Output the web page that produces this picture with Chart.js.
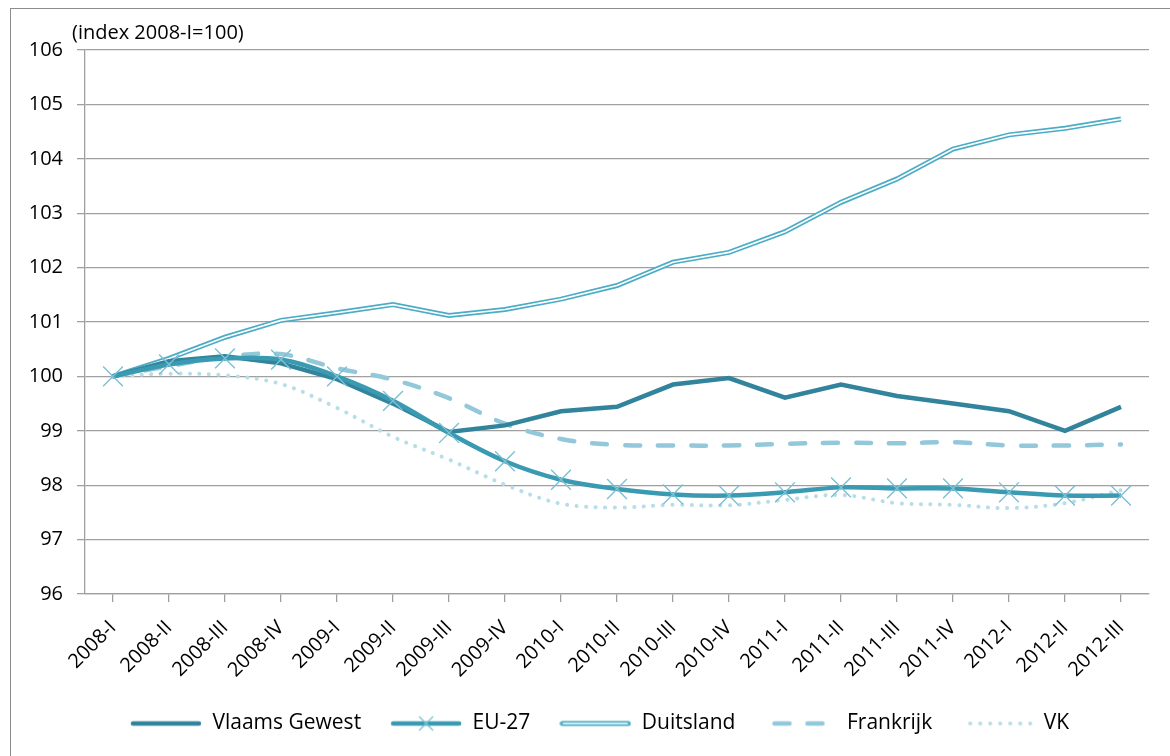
<!DOCTYPE html>
<html>
<head>
<meta charset="utf-8">
<script src="https://cdn.jsdelivr.net/npm/chart.js@4"></script>
<style>
  html, body { margin: 0; padding: 0; background: #fff; }
  #wrap { position: relative; width: 1170px; height: 756px; overflow: hidden; }
  #frame { position: absolute; left: 10px; top: 8px; width: 1300px; height: 900px;
           border-left: 1px solid #8c8c8c; border-top: 1px solid #8c8c8c; pointer-events: none; }
  canvas { position: absolute; left: 0; top: 0; }
</style>
</head>
<body>
<div id="wrap">
  <canvas id="c" width="1170" height="756"></canvas>
  <div id="frame"></div>
</div>
<script>
const categories = ['2008-I','2008-II','2008-III','2008-IV','2009-I','2009-II','2009-III','2009-IV',
  '2010-I','2010-II','2010-III','2010-IV','2011-I','2011-II','2011-III','2011-IV','2012-I','2012-II','2012-III'];
const vlaamsGewest = [100, 100.28, 100.37, 100.24, 99.95, 99.5, 98.98, 99.1, 99.36, 99.44, 99.85, 99.97, 99.61, 99.85, 99.64, 99.5, 99.36, 99.0, 99.44];
const eu27 = [100, 100.22, 100.33, 100.31, 100.0, 99.55, 98.96, 98.44, 98.1, 97.93, 97.83, 97.81, 97.87, 97.96, 97.94, 97.94, 97.87, 97.81, 97.81];
const duitsland = [100, 100.33, 100.72, 101.03, 101.17, 101.32, 101.12, 101.23, 101.42, 101.67, 102.1, 102.28, 102.66, 103.2, 103.63, 104.18, 104.44, 104.56, 104.73];
const frankrijk = [100, 100.19, 100.36, 100.41, 100.15, 99.94, 99.6, 99.13, 98.85, 98.74, 98.73, 98.73, 98.76, 98.78, 98.77, 98.79, 98.73, 98.73, 98.75];
const vk = [100, 100.05, 100.02, 99.86, 99.42, 98.89, 98.47, 98.01, 97.66, 97.59, 97.64, 97.63, 97.73, 97.82, 97.67, 97.64, 97.58, 97.67, 97.91];
const seriesNames = ['Vlaams Gewest', 'EU-27', 'Duitsland', 'Frankrijk', 'VK'];
const yTicks = { min: 96, max: 106, step: 1 };
const axisTitle = '(index 2008-I=100)';

const C_VL = '#31849B', C_EU = '#3A9AB2', C_EUX = '#7CC0D3', C_DE = '#4BACC6', C_FR = '#92C8D9', C_VK = '#B7DDE8';
const FONT = "'Open Sans', 'Noto Sans', sans-serif";

function sym(draw) {
  const cv = document.createElement('canvas');
  cv.width = 72; cv.height = 20;
  const g = cv.getContext('2d');
  draw(g);
  return cv;
}
const legendSymbols = [
  sym(g => { g.strokeStyle = C_VL; g.lineWidth = 4.5; g.lineCap = 'round'; g.beginPath(); g.moveTo(3,10); g.lineTo(69,10); g.stroke(); }),
  sym(g => { g.strokeStyle = C_EU; g.lineWidth = 4.5; g.lineCap = 'round'; g.beginPath(); g.moveTo(3,10); g.lineTo(69,10); g.stroke();
             g.strokeStyle = C_EUX; g.lineWidth = 1.3; g.lineCap = 'butt'; g.beginPath(); g.moveTo(29,3); g.lineTo(43,17); g.moveTo(43,3); g.lineTo(29,17); g.stroke(); }),
  sym(g => { g.strokeStyle = C_DE; g.lineWidth = 5; g.lineCap = 'round'; g.beginPath(); g.moveTo(3,10); g.lineTo(69,10); g.stroke();
             g.strokeStyle = '#fff'; g.lineWidth = 1.6; g.beginPath(); g.moveTo(4,10); g.lineTo(68,10); g.stroke(); }),
  sym(g => { g.strokeStyle = C_FR; g.lineWidth = 4.5; g.lineCap = 'round'; g.beginPath(); g.moveTo(10,10); g.lineTo(25,10); g.moveTo(43,10); g.lineTo(58,10); g.stroke(); }),
  sym(g => { g.fillStyle = C_VK; for (let i = 0; i < 7; i++) { g.beginPath(); g.arc(9 + i*10, 10, 2, 0, Math.PI*2); g.fill(); } })
];

const titlePlugin = {
  id: 'axisTitleText',
  afterLayout(chart) {
    if (chart.legend) { chart.legend.left += 19; chart.legend.right += 19; }
  },
  afterDraw(chart) {
    const ctx = chart.ctx;
    ctx.save();
    ctx.font = '20px ' + FONT;
    ctx.fillStyle = '#000';
    ctx.textAlign = 'left';
    ctx.textBaseline = 'middle';
    ctx.fillText(axisTitle, chart.chartArea.left - 13, chart.chartArea.top - 17);
    ctx.restore();
  }
};

const PAD_L = 12;
new Chart(document.getElementById('c'), {
  type: 'line',
  data: {
    labels: categories,
    datasets: [
      { label: seriesNames[0], data: vlaamsGewest, borderColor: C_VL, borderWidth: 4.5, tension: 0, pointRadius: 0, order: 1 },
      { label: seriesNames[1], data: eu27, borderColor: C_EU, borderWidth: 4.5, tension: 0.35, pointStyle: 'crossRot', pointRadius: 14,
        pointBorderColor: C_EUX, pointBorderWidth: 1.4, pointBackgroundColor: C_EUX, order: 0 },
      { label: seriesNames[2], data: duitsland, borderColor: C_DE, borderWidth: 5, tension: 0, pointRadius: 0, order: 3 },
      { label: '_inner', data: duitsland, borderColor: '#ffffff', borderWidth: 1.6, tension: 0, pointRadius: 0, order: 2 },
      { label: seriesNames[3], data: frankrijk, borderColor: C_FR, borderWidth: 4.5, tension: 0.35, pointRadius: 0,
        borderDash: [15, 18], borderCapStyle: 'round', order: 4 },
      { label: seriesNames[4], data: vk, borderColor: C_VK, borderWidth: 4, tension: 0.35, pointRadius: 0,
        borderDash: [0.1, 9.5], borderCapStyle: 'round', order: 5 }
    ]
  },
  options: {
    responsive: false,
    animation: false,
    events: [],
    layout: { padding: { left: PAD_L, right: 21, top: 50, bottom: 12 } },
    scales: {
      x: {
        offset: true,
        grid: { display: true, drawOnChartArea: false, drawTicks: true, tickLength: 8, color: '#A0A0A0', lineWidth: 1.3 },
        border: { display: true, color: '#A0A0A0', width: 1.3 },
        ticks: { font: { family: FONT, size: 20 }, color: '#000', maxRotation: 45, minRotation: 45, autoSkip: false, padding: 14 },
        afterFit(scale) { scale.height = 90; }
      },
      y: {
        min: yTicks.min, max: yTicks.max,
        ticks: { stepSize: yTicks.step, font: { family: FONT, size: 20 }, color: '#000', padding: 14 },
        grid: { color: '#A0A0A0', lineWidth: 1.3, tickLength: 8 },
        border: { display: true, color: '#A0A0A0', width: 1.3 },
        afterFit(scale) { scale.width = 85 - PAD_L; }
      }
    },
    plugins: {
      tooltip: { enabled: false },
      legend: {
        position: 'bottom',
        labels: {
          usePointStyle: true,
          pointStyleWidth: 72,
          padding: 29,
          color: '#000',
          font: { family: FONT, size: 21 },
          generateLabels(chart) {
            return seriesNames.map((n, i) => ({
              text: n, pointStyle: legendSymbols[i], fillStyle: 'transparent', strokeStyle: 'transparent',
              lineWidth: 0, hidden: false, fontColor: '#000'
            }));
          }
        }
      }
    }
  },
  plugins: [titlePlugin]
});
</script>
</body>
</html>
